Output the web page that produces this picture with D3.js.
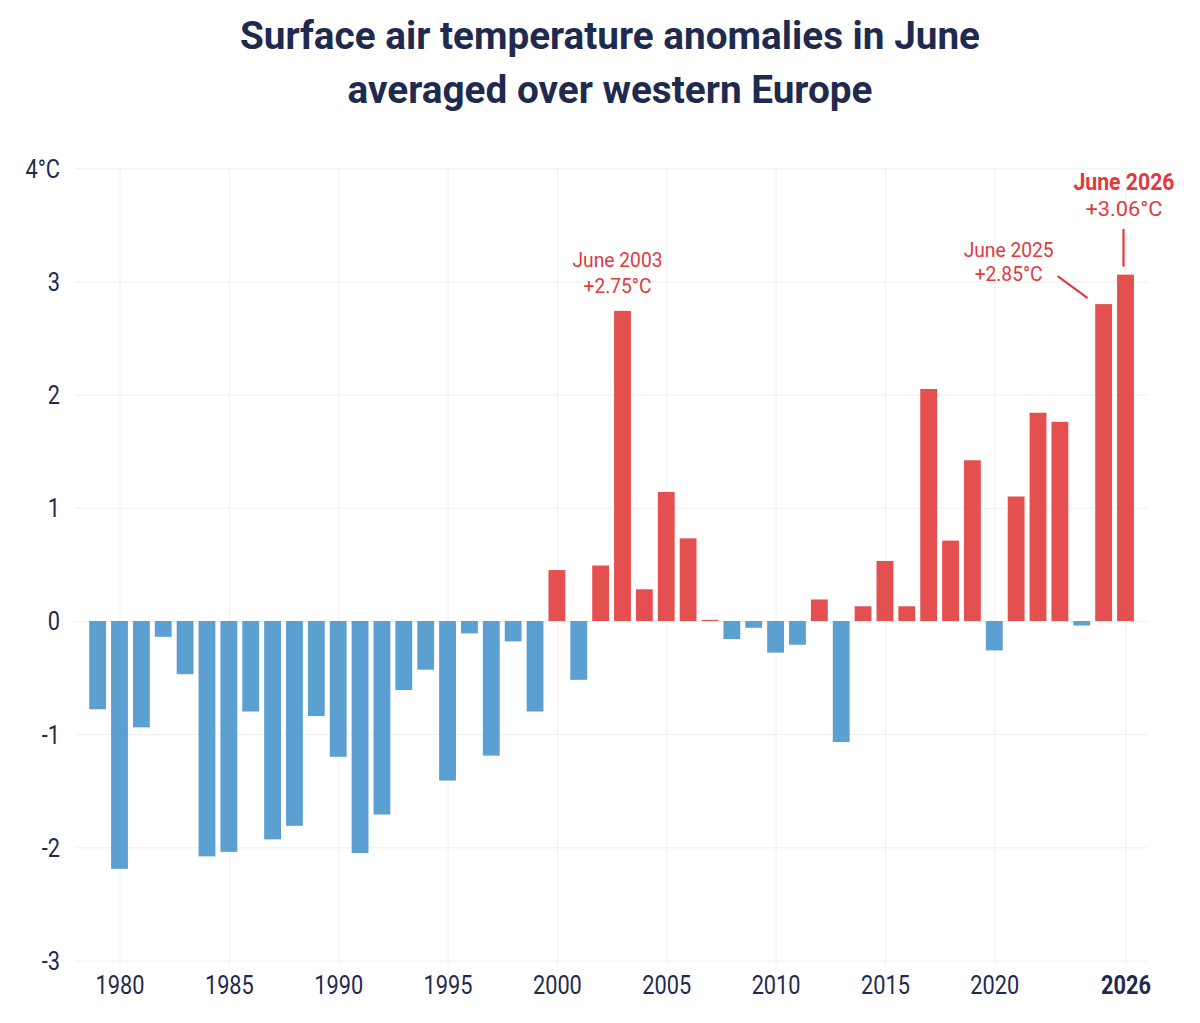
<!DOCTYPE html>
<html>
<head>
<meta charset="utf-8">
<script src="https://cdn.jsdelivr.net/npm/d3@7"></script>
<style>
  html, body { margin: 0; padding: 0; background: #ffffff; }
  svg { display: block; }
  text { font-family: Roboto, "Noto Sans", sans-serif; }
</style>
</head>
<body>
<svg id="chart" width="1200" height="1023"></svg>
<script>
// ---- data ----
const years = d3.range(1979, 2027);
const anomalies = [
  -0.78, -2.19, -0.94, -0.14, -0.47, -2.08, -2.04, -0.80, -1.93, -1.81,
  -0.84, -1.20, -2.05, -1.71, -0.61, -0.43, -1.41, -0.11, -1.19, -0.18,
  -0.80,  0.45, -0.52,  0.49,  2.74,  0.28,  1.14,  0.73,  0.01, -0.16,
  -0.06, -0.28, -0.21,  0.19, -1.07,  0.13,  0.53,  0.13,  2.05,  0.71,
   1.42, -0.26,  1.10,  1.84,  1.76, -0.04,  2.80,  3.06
];
const yTicks = [-3, -2, -1, 0, 1, 2, 3, 4];
const yTickLabels = ["-3", "-2", "-1", "0", "1", "2", "3", "4°C"];
const xTicks = [1980, 1985, 1990, 1995, 2000, 2005, 2010, 2015, 2020, 2026];
const xTickLabels = ["1980", "1985", "1990", "1995", "2000", "2005", "2010", "2015", "2020", "2026"];
const titleLines = ["Surface air temperature anomalies in June", "averaged over western Europe"];
const annotYears = [2003, 2025, 2026];
const annotTitles = ["June 2003", "June 2025", "June 2026"];
const annotValues = ["+2.75°C", "+2.85°C", "+3.06°C"];

// ---- layout ----
const svg = d3.select("#chart");
const navy = "#1e2a4e";
const red = "#e4504f";
const blue = "#5ba0d1";
const annotRed = "#e03a3e";
const grid = "#efefef";

const x = d3.scaleLinear().domain([1980, 2026]).range([119.5, 1125.5]);
const step = x(1981) - x(1980);
const barW = step * 0.77;
const y = d3.scaleLinear().domain([-3, 4]).range([960.5, 168.3]);

const condense = (sel, f) => sel.each(function() {
  const len = this.getComputedTextLength();
  d3.select(this).attr("textLength", len * f).attr("lengthAdjust", "spacingAndGlyphs");
});

// gridlines
const yGrid = d3.axisLeft(y).tickValues(yTicks).tickSize(-(1148 - 75)).tickFormat("");
svg.append("g").attr("transform", "translate(75,0)").call(yGrid)
  .call(g => g.select(".domain").remove())
  .call(g => g.selectAll("line").attr("stroke", grid).attr("stroke-width", 1));

const xGrid = d3.axisBottom(x).tickValues(xTicks).tickSize(-(965 - 168)).tickFormat("");
svg.append("g").attr("transform", "translate(0,965)").call(xGrid)
  .call(g => g.select(".domain").remove())
  .call(g => g.selectAll("line").attr("stroke", grid).attr("stroke-width", 1));

// bars
svg.append("g").selectAll("rect").data(years).join("rect")
  .attr("x", (d) => x(d) - barW / 2)
  .attr("width", barW)
  .attr("y", (d, i) => anomalies[i] >= 0 ? y(anomalies[i]) : y(0))
  .attr("height", (d, i) => Math.max(1, Math.abs(y(anomalies[i]) - y(0))))
  .attr("fill", (d, i) => anomalies[i] >= 0 ? red : blue);

// y axis labels
const yAxis = d3.axisLeft(y).tickValues(yTicks).tickSize(0).tickPadding(0)
  .tickFormat((d, i) => yTickLabels[i]);
svg.append("g").attr("transform", "translate(60,0)").call(yAxis)
  .call(g => g.select(".domain").remove())
  .call(g => g.selectAll("text")
    .attr("fill", navy).attr("font-size", 25).attr("font-family", "Roboto")
    .attr("dy", null).attr("y", 9)
    .call(condense, 0.87));

// x axis labels
const xAxis = d3.axisBottom(x).tickValues(xTicks).tickSize(0).tickPadding(0)
  .tickFormat((d, i) => xTickLabels[i]);
svg.append("g").attr("transform", "translate(0,994)").call(xAxis)
  .call(g => g.select(".domain").remove())
  .call(g => g.selectAll("text")
    .attr("fill", navy).attr("font-size", 25).attr("font-family", "Roboto")
    .attr("dy", null).attr("y", 0)
    .attr("font-weight", d => d === 2026 ? 700 : 400)
    .call(condense, 0.87));

// title
const titleWidths = [740, 525];
const titleBase = [49, 103];
svg.append("g").selectAll("text").data(titleLines).join("text")
  .attr("x", 610).attr("y", (d, i) => titleBase[i])
  .attr("text-anchor", "middle")
  .attr("font-size", 38).attr("font-weight", 700).attr("fill", navy)
  .attr("textLength", (d, i) => titleWidths[i]).attr("lengthAdjust", "spacingAndGlyphs")
  .text(d => d);

// annotations
const annotDx = [-5, -95, -1.5];
const annotBase1 = [267, 257, 190];
const annotBase2 = [293, 281, 216];
const annotW1 = [90, 90, 101];
const annotW2 = [68, 68, 77];
const annotSize1 = [20, 20, 23];
const annotWeight1 = [400, 400, 700];
const ag = svg.append("g");
annotYears.forEach((yr, i) => {
  const cx = x(yr) + annotDx[i];
  ag.append("text").attr("x", cx).attr("y", annotBase1[i])
    .attr("text-anchor", "middle").attr("fill", annotRed)
    .attr("font-size", annotSize1[i]).attr("font-weight", annotWeight1[i])
    .attr("textLength", annotW1[i]).attr("lengthAdjust", "spacingAndGlyphs")
    .text(annotTitles[i]);
  ag.append("text").attr("x", cx).attr("y", annotBase2[i])
    .attr("text-anchor", "middle").attr("fill", annotRed)
    .attr("font-size", 20).attr("font-weight", 400)
    .attr("textLength", annotW2[i]).attr("lengthAdjust", "spacingAndGlyphs")
    .text(annotValues[i]);
});
// leader lines
const i25 = years.indexOf(2025), i26 = years.indexOf(2026);
ag.append("line")
  .attr("x1", x(2025) - 46).attr("y1", y(anomalies[i25]) - 28)
  .attr("x2", x(2025) - 16).attr("y2", y(anomalies[i25]) - 6)
  .attr("stroke", annotRed).attr("stroke-width", 2.2);
ag.append("line")
  .attr("x1", x(2026) - 2).attr("y1", 229)
  .attr("x2", x(2026) - 2).attr("y2", y(anomalies[i26]) - 8)
  .attr("stroke", annotRed).attr("stroke-width", 2.2);
</script>
</body>
</html>
